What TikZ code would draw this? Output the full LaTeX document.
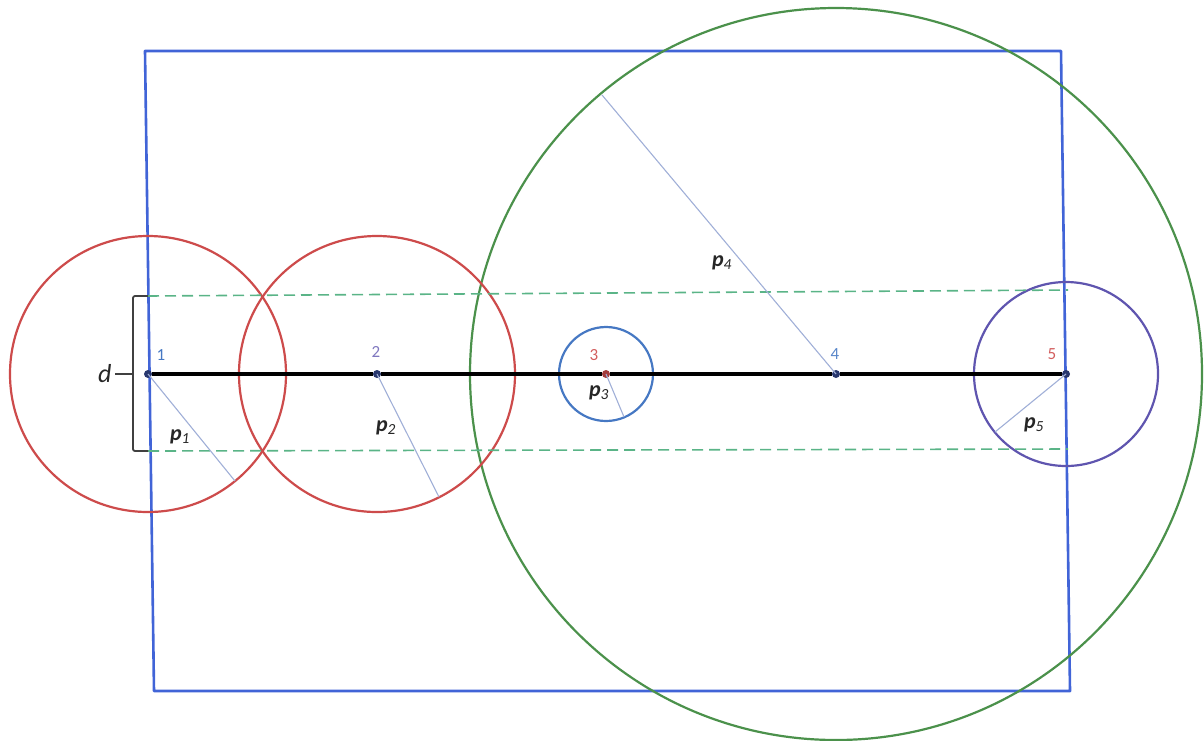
\documentclass[tikz,border=0pt]{standalone}
\usepackage{fontspec}
\setmainfont{Carlito}
\usepackage{tikz}
\usetikzlibrary{positioning, calc}
\definecolor{rossoc}{RGB}{205,75,75}
\definecolor{verdec}{RGB}{75,145,75}
\definecolor{bluerett}{RGB}{65,100,215}
\definecolor{bluec}{RGB}{70,120,195}
\definecolor{violac}{RGB}{95,85,175}
\definecolor{tratteggio}{RGB}{90,180,135}
\definecolor{raggioc}{RGB}{160,175,215}
\definecolor{puntoc}{RGB}{40,55,110}
\tikzset{
  punto/.style={circle, fill=puntoc, inner sep=0pt, minimum size=8pt},
  numero/.style={font=\fontsize{17}{18}\selectfont},
  etichetta/.style={font=\fontsize{22}{22}\selectfont, text=black!85},
  % Stili per le linee
  rettangolo/.style={draw=bluerett, line width=2.6pt, line join=round},
  cerchio/.style={line width=2.2pt},
  segmento/.style={draw=black, line width=3.2pt},
  raggio/.style={draw=raggioc, line width=1.1pt},
  limite/.style={draw=tratteggio, line width=1.6pt, dash pattern=on 11pt off 6pt},
  parentesi/.style={draw=black!75, line width=1.8pt, rounded corners=2pt}
}

\begin{document}
\begin{tikzpicture}[x=1pt, y=-1pt]

\useasboundingbox (0,0) rectangle (1204,740);

% Rettangolo esterno (leggermente storto)
\draw[rettangolo] (145,51) -- (1061,51) -- (1070,691) -- (154,691) -- cycle;

% Centri dei cerchi
\node[punto] (c1) at (148,374) {};
\node[punto] (c2) at (377,374) {};
\node[punto, fill=rossoc!80!black] (c3) at (606,374) {};
\node[punto] (c4) at (836,374) {};
\node[punto] (c5) at (1066,374) {};

% Cerchi
\draw[cerchio, draw=verdec] (c4) circle (366);
\draw[cerchio, draw=rossoc] (c1) circle (138);
\draw[cerchio, draw=rossoc] (c2) circle (138);
\draw[cerchio, draw=bluec] (c3) circle (47);
\draw[cerchio, draw=violac] (c5) circle (92);

% Linee tratteggiate di confine
\coordinate (dtop) at (148,296);
\coordinate (dbot) at (148,451);
\coordinate (etop) at (1068,290);
\coordinate (ebot) at (1068,449);
\draw[limite] (dtop) -- (etop);
\draw[limite] (dbot) -- (ebot);

% Segmento principale
\draw[segmento] (c1) -- (c2) -- (c3) -- (c4) -- (c5);

% Raggi
\coordinate (r1) at (235,481);
\coordinate (r2) at (439,497);
\coordinate (r3) at (624,417);
\coordinate (r4) at (602,95);
\coordinate (r5) at (995,432);
\draw[raggio] (c1.center) -- (r1);
\draw[raggio] (c2.center) -- (r2);
\draw[raggio] (c3.center) -- (r3);
\draw[raggio] (c4.center) -- (r4);
\draw[raggio] (c5.center) -- (r5);

% Numeri dei punti
\node[numero, text=bluec] (n1) at (161,355) {1};
\node[numero, text=violac!80] (n2) at (376,352) {2};
\node[numero, text=rossoc!90!white] (n3) at (594,355) {3};
\node[numero, text=bluec!90] (n4) at (835,354) {4};
\node[numero, text=rossoc!90!white] (n5) at (1052,354) {5};

% Etichette dei raggi
\node[etichetta] (lp1) at (180,437) {\textbf{\textit{p}}\textsubscript{\textit{1}}};
\node[etichetta] (lp2) at (386,428) {\textbf{\textit{p}}\textsubscript{\textit{2}}};
\node[etichetta] (lp3) at (599,393) {\textbf{\textit{p}}\textsubscript{\textit{3}}};
\node[etichetta] (lp4) at (722,263) {\textbf{\textit{p}}\textsubscript{\textit{4}}};
\node[etichetta] (lp5) at (1034,425) {\textbf{\textit{p}}\textsubscript{\textit{5}}};

% Parentesi della distanza d
\coordinate (pm) at (133,374);
\draw[parentesi] (dtop) -- (133,296) -- (133,451) -- (dbot);
\draw[parentesi] (pm) -- ++(-18,0) coordinate (pd);
\node[etichetta, font=\fontsize{26}{26}\selectfont\itshape, left=0pt of pd] (d) {d};

\end{tikzpicture}
\end{document}
